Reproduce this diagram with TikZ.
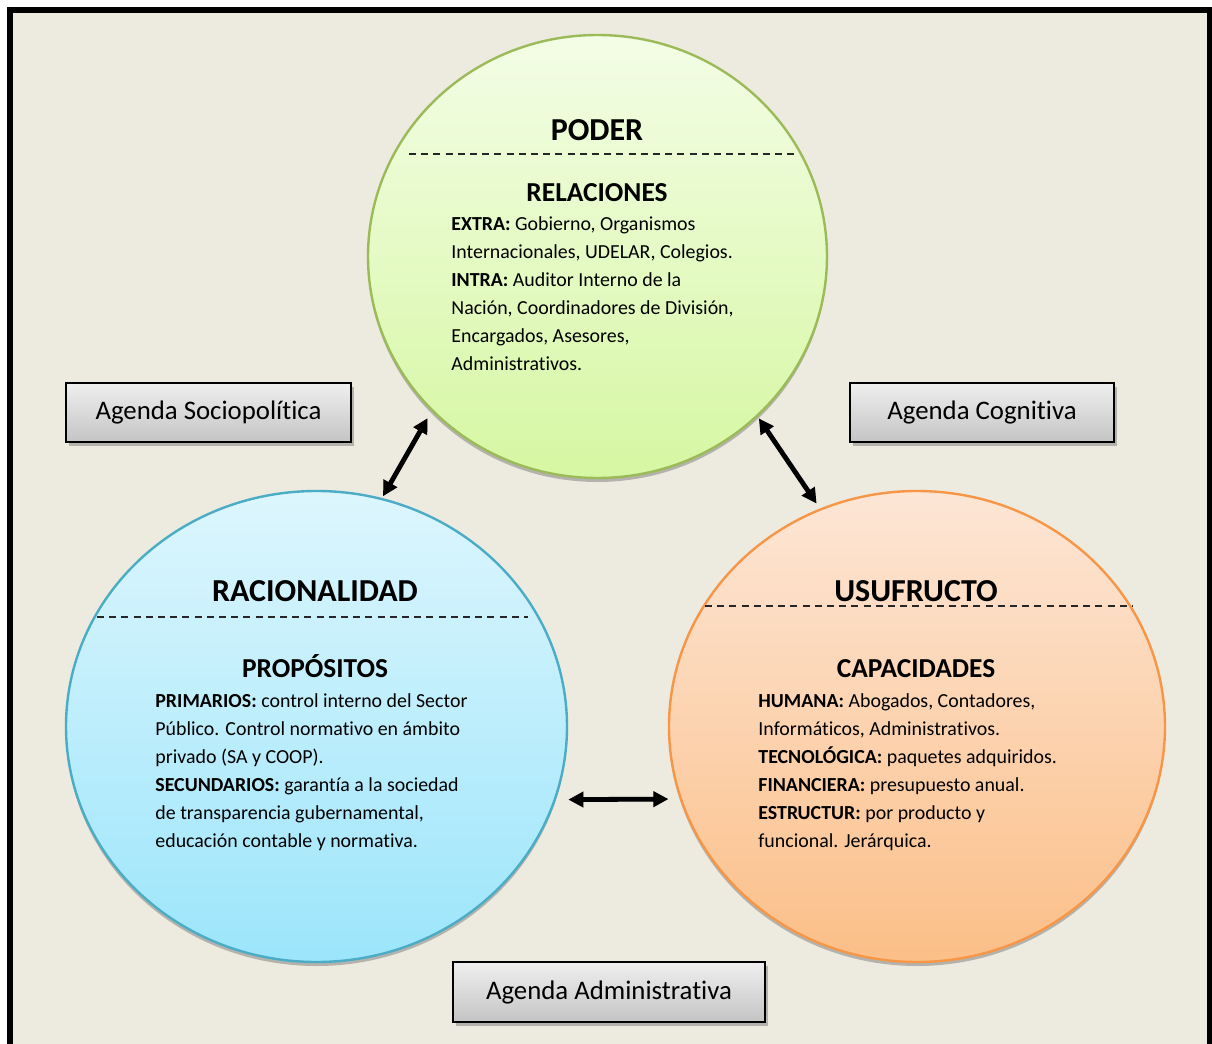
\documentclass[tikz,border=0pt]{standalone}
\usepackage{fontspec}
\setmainfont{Carlito}[Ligatures=NoCommon]
\usetikzlibrary{arrows.meta,shadows,calc,shapes.geometric}

\definecolor{paper}{HTML}{EDEAE0}
\definecolor{grnline}{HTML}{9BBB59}
\definecolor{grntop}{HTML}{F3FDE6}
\definecolor{grnbot}{HTML}{D6F7A2}
\definecolor{bluline}{HTML}{4BACC6}
\definecolor{blutop}{HTML}{DDF6FD}
\definecolor{blubot}{HTML}{9CE5FB}
\definecolor{orgline}{HTML}{F79646}
\definecolor{orgtop}{HTML}{FDE6D6}
\definecolor{orgbot}{HTML}{FBBF88}
\definecolor{boxtop}{HTML}{EFEFEF}
\definecolor{boxbot}{HTML}{C4C4C4}

% one drawing unit = 0.5pt
\newdimen\pxu \pxu=0.5pt

\tikzset{
  bubble/.style={ellipse, inner sep=0pt, line width=1.2pt,
    drop shadow={shadow xshift=0pt, shadow yshift=-2pt, opacity=0.35, fill=black!70}},
  agenda/.style={rectangle, draw=black, line width=0.9pt, inner sep=0pt,
    top color=boxtop, bottom color=boxbot, font=\fontsize{13.4}{16}\selectfont,
    drop shadow={shadow xshift=1.5pt, shadow yshift=-2pt, opacity=0.35, fill=black!70}},
  head/.style={font=\fontsize{16}{19}\bfseries\selectfont, anchor=base, inner sep=0pt},
  subhead/.style={font=\fontsize{13.7}{16}\bfseries\selectfont, anchor=base, inner sep=0pt},
  body/.style={font=\fontsize{9.95}{14}\selectfont, align=left, anchor=north west, inner sep=0pt},
  sep/.style={dash pattern=on 3.5pt off 2.6pt, line width=0.65pt, black!85},
  link/.style={line width=2.4pt, {Triangle[length=7.5pt,width=7.5pt]}-{Triangle[length=7.5pt,width=7.5pt]}},
  linkshade/.style={line width=2.4pt, black, opacity=0.18, {Triangle[length=7.5pt,width=7.5pt]}-{Triangle[length=7.5pt,width=7.5pt]}}
}

\begin{document}
\begin{tikzpicture}[x=0.5pt, y=-0.5pt]
\useasboundingbox (0,0) rectangle (1212,1044);
\fill[white] (0,0) rectangle (1212,1044);
% framed sheet
\fill[paper] (10,10) rectangle (1210,1060);
\draw[line width=2.7pt] (10,10) rectangle (1210,1060);

% the three bubbles
\node[bubble, draw=grnline, top color=grntop, bottom color=grnbot,
      minimum width=459\pxu, minimum height=443\pxu] (poder) at (597.5,256.5) {};
\node[bubble, draw=bluline, top color=blutop, bottom color=blubot,
      minimum width=501\pxu, minimum height=471\pxu] (racio) at (316.5,726.5) {};
\node[bubble, draw=orgline, top color=orgtop, bottom color=orgbot,
      minimum width=496\pxu, minimum height=471\pxu] (usuf) at (917,726.5) {};

% PODER
\node[head] (poderT) at (597,140) {PODER};
\draw[sep] (409,154) -- (795,154);
\node[subhead] (poderS) at (597,201) {RELACIONES};
\node[body] (poderB) at (451,216) {\textbf{EXTRA:} Gobierno, Organismos\\
Internacionales, UDELAR, Colegios.\\
\textbf{INTRA:} Auditor Interno de la\\
Nación, Coordinadores de División,\\
Encargados, Asesores,\\
Administrativos.};

% RACIONALIDAD
\node[head] (racioT) at (315,601) {RACIONALIDAD};
\draw[sep] (97,617) -- (528,617);
\node[subhead] (racioS) at (315,677) {PROPÓSITOS};
\node[body] (racioB) at (155,693) {\textbf{PRIMARIOS:} control interno del Sector\\
Público. Control normativo en ámbito\\
privado (SA y COOP).\\
\textbf{SECUNDARIOS:} garantía a la sociedad\\
de transparencia gubernamental,\\
educación contable y normativa.};

% USUFRUCTO
\node[head] (usufT) at (916,601) {USUFRUCTO};
\draw[sep] (705,606) -- (1133,606);
\node[subhead] (usufS) at (916,677) {CAPACIDADES};
\node[body] (usufB) at (758,693) {\textbf{HUMANA:} Abogados, Contadores,\\
Informáticos, Administrativos.\\
\textbf{TECNOLÓGICA:} paquetes adquiridos.\\
\textbf{FINANCIERA:} presupuesto anual.\\
\textbf{ESTRUCTUR:} por producto y\\
funcional. Jerárquica.};

% agendas
\node[agenda, minimum width=285\pxu, minimum height=59\pxu] (socio) at (208.5,412.5) {Agenda Sociopolítica};
\node[agenda, minimum width=264\pxu, minimum height=59\pxu] (cogni) at (982,412.5) {Agenda Cognitiva};
\node[agenda, minimum width=312\pxu, minimum height=60\pxu] (admin) at (609,992) {Agenda Administrativa};

% two-way links between the bubbles (soft shade first)
\begin{scope}[yshift=-2pt, xshift=0.5pt]
\draw[linkshade, shorten <=1pt, shorten >=4pt] (racio.74.9) -- (poder.223.6);
\draw[linkshade, shorten <=1pt, shorten >=3pt] (poder.315.9) -- (usuf.114);
\draw[linkshade, shorten <=6.25pt, shorten >=5.7pt] (racio.-17.16) -- (usuf.197.16);
\end{scope}
\draw[link, shorten <=1pt, shorten >=4pt] (racio.74.9) -- (poder.223.6);
\draw[link, shorten <=1pt, shorten >=3pt] (poder.315.9) -- (usuf.114);
\draw[link, shorten <=6.25pt, shorten >=5.7pt] (racio.-17.16) -- (usuf.197.16);
\end{tikzpicture}
\end{document}
